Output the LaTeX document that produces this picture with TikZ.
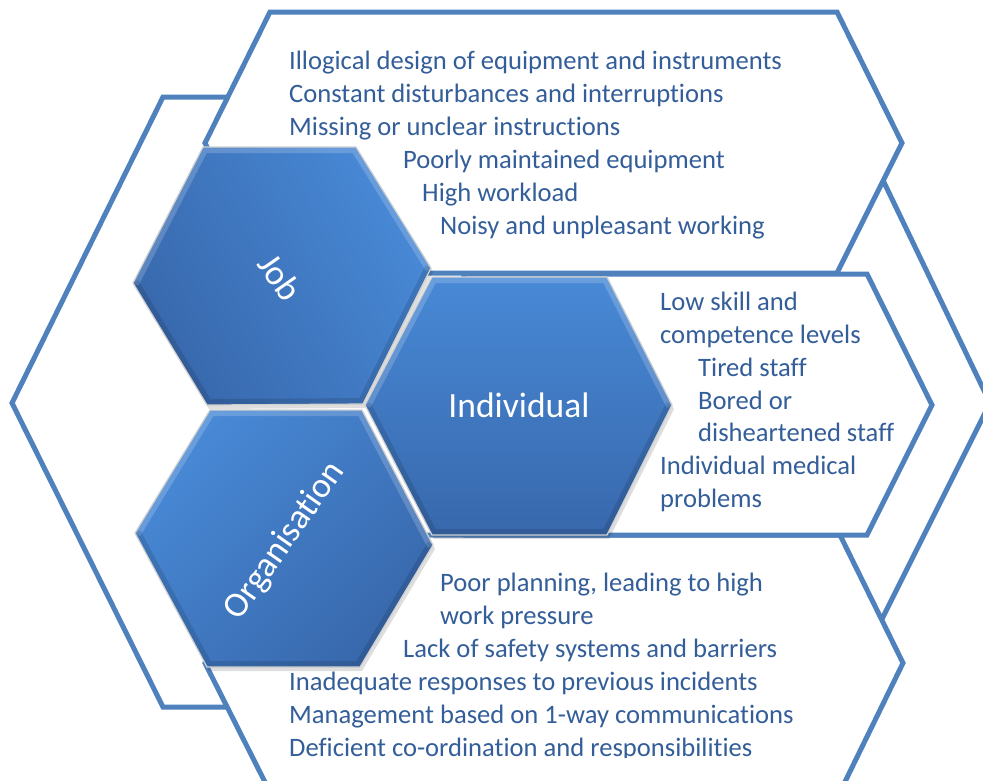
\documentclass[tikz,border=0pt]{standalone}
\usepackage{fontspec}
\setmainfont{Carlito}[RawFeature={-liga;-clig}]
\definecolor{panelline}{RGB}{79,129,189}
\definecolor{txtblue}{RGB}{51,94,153}
\definecolor{hexlight}{RGB}{72,137,214}
\definecolor{hexdark}{RGB}{56,104,172}
\def\hexJob{(133,283) -- (203,147) -- (356,147) -- (431,268) -- (363,404) -- (207,405) -- cycle}
\def\hexInd{(365,405) -- (432,277) -- (607,277) -- (672,405) -- (607,535) -- (432,535) -- cycle}
\def\hexOrg{(135,533) -- (210,410) -- (362,410) -- (433,545) -- (360,667) -- (207,667) -- cycle}
\begin{document}
\begin{tikzpicture}[x=1pt,y=-1pt,
  panel/.style={draw=panelline, line width=5pt, fill=white, line join=miter},
  itemtxt/.style={anchor=base west, inner sep=0pt, text=txtblue, font=\fontsize{26.6}{32}\selectfont},
  hexlabel/.style={inner sep=0pt, text=white, font=\fontsize{35.5}{40}\selectfont},
  hexedge/.style={draw=white!82!black, line width=1.2pt, line join=miter},
  hexshadow/.style={fill=black, opacity=0.13, shift={(2,4)}},
  bevlight/.style={draw=white, opacity=0.18, line width=12pt, line join=miter},
  bevdark/.style={draw=black, opacity=0.12, line width=12pt, line join=miter}]
\clip (0,0) rectangle (983,780);
\fill[white] (0,0) rectangle (983,780);
% outer background hexagon
\draw[panel] (12,403) -- (163,97) -- (843,97) -- (990,403) -- (838,707) -- (163,707) -- cycle;
% text panels
\draw[panel] (205,143) -- (270,12) -- (837,12) -- (902,143) -- (837,273) -- (270,273) -- cycle;
\draw[panel] (205,663) -- (270,535) -- (840,535) -- (903,663) -- (840,792) -- (270,792) -- cycle;
\draw[panel] (400,405) -- (465,274) -- (867,274) -- (932,405) -- (867,535) -- (465,535) -- cycle;
% Job hexagon
\path[hexshadow] \hexJob;
\shade[top color=hexlight, bottom color=hexdark, shading angle=-60] \hexJob;
\begin{scope}
  \clip \hexJob;
  \draw[bevlight] (133,283) -- (203,147) -- (356,147) -- (431,268);
  \draw[bevdark] (431,268) -- (363,404) -- (207,405) -- (133,283);
\end{scope}
\draw[hexedge] \hexJob;
% Individual hexagon
\path[hexshadow] \hexInd;
\shade[top color=hexlight, bottom color=hexdark] \hexInd;
\begin{scope}
  \clip \hexInd;
  \draw[bevlight] (365,405) -- (432,277) -- (607,277) -- (672,405);
  \draw[bevdark] (672,405) -- (607,535) -- (432,535) -- (365,405);
\end{scope}
\draw[hexedge] \hexInd;
% Organisation hexagon
\path[hexshadow] \hexOrg;
\shade[top color=hexlight, bottom color=hexdark, shading angle=45] \hexOrg;
\begin{scope}
  \clip \hexOrg;
  \draw[bevlight] (135,533) -- (210,410) -- (362,410) -- (433,545);
  \draw[bevdark] (433,545) -- (360,667) -- (207,667) -- (135,533);
\end{scope}
\draw[hexedge] \hexOrg;
% hexagon labels
\node[hexlabel, rotate=-55] (job) at (280,277) {Job};
\node[hexlabel, anchor=base] (ind) at (519,417) {Individual};
\node[hexlabel, rotate=55] (org) at (285,541) {Organisation};
% top panel text
\node[itemtxt] (t1) at (289,69) {Illogical design of equipment and instruments};
\node[itemtxt] (t2) at (289,102) {Constant disturbances and interruptions};
\node[itemtxt] (t3) at (289,135) {Missing or unclear instructions};
\node[itemtxt] (t4) at (403,168) {Poorly maintained equipment};
\node[itemtxt] (t5) at (422,201) {High workload};
\node[itemtxt] (t6) at (440,234) {Noisy and unpleasant working};
% middle panel text
\node[itemtxt] (m1) at (660,310) {Low skill and};
\node[itemtxt] (m2) at (660,343) {competence levels};
\node[itemtxt] (m3) at (698,376) {Tired staff};
\node[itemtxt] (m4) at (698,409) {Bored or};
\node[itemtxt] (m5) at (698,441) {disheartened staff};
\node[itemtxt] (m6) at (660,474) {Individual medical};
\node[itemtxt] (m7) at (660,507) {problems};
% bottom panel text
\begin{scope}
  \clip (0,0) rectangle (983,757);
  \node[itemtxt] (b1) at (440,591) {Poor planning, leading to high};
  \node[itemtxt] (b2) at (440,624) {work pressure};
  \node[itemtxt] (b3) at (403,657) {Lack of safety systems and barriers};
  \node[itemtxt] (b4) at (289,690) {Inadequate responses to previous incidents};
  \node[itemtxt] (b5) at (289,723) {Management based on 1-way communications};
  \node[itemtxt] (b6) at (289,756) {Deficient co-ordination and responsibilities};
\end{scope}
\end{tikzpicture}
\end{document}
